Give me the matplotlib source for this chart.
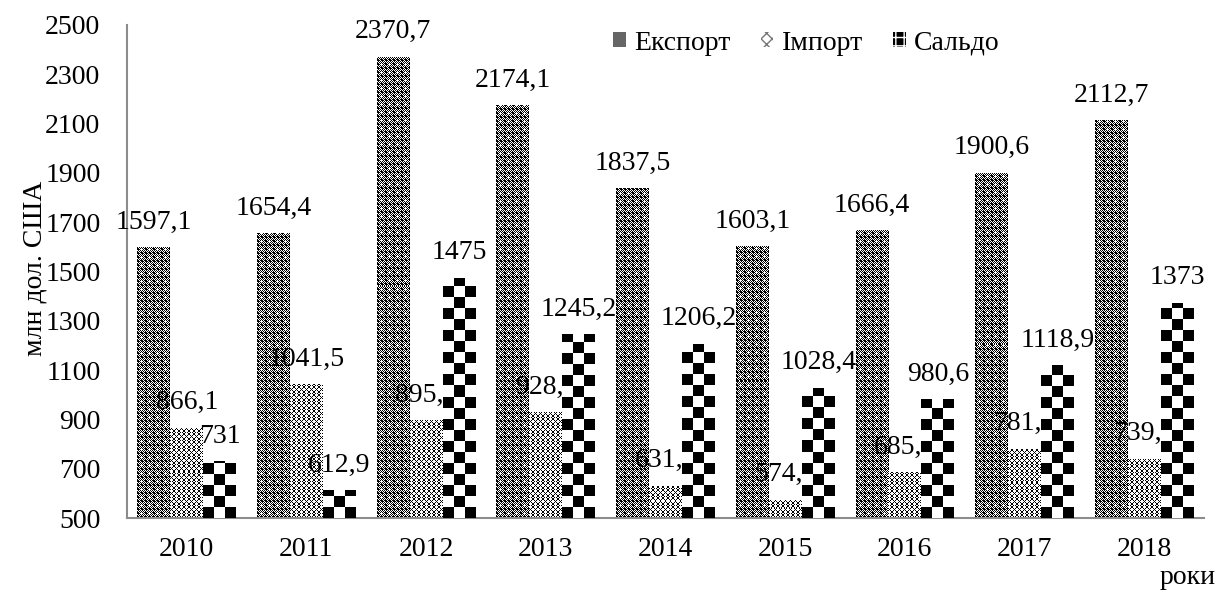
import numpy as np
import matplotlib
matplotlib.use("Agg")
import matplotlib.pyplot as plt
from matplotlib.patches import Patch

years = ['2010', '2011', '2012', '2013', '2014', '2015', '2016', '2017', '2018']
export = [1597.1, 1654.4, 2370.7, 2174.1, 1837.5, 1603.1, 1666.4, 1900.6, 2112.7]
imports = [866.1, 1041.5, 895.7, 928.9, 631.3, 574.7, 685.8, 781.7, 739.7]
saldo = [731, 612.9, 1475, 1245.2, 1206.2, 1028.4, 980.6, 1118.9, 1373]
series_names = ['Експорт', 'Імпорт', 'Сальдо']

plt.rcParams['font.family'] = ['Liberation Serif', 'DejaVu Serif']
plt.rcParams['font.size'] = 20

fig = plt.figure(figsize=(12.2, 5.9), dpi=100)
ax = fig.add_axes([0.104, 0.122, 0.883, 0.836])
ax.set_xlim(-0.5, len(years) - 0.5)
ax.set_ylim(500, 2500)
ax.set_yticks(np.arange(500, 2501, 200))
ax.set_xticks(np.arange(len(years)))
ax.set_xticklabels(years)
ax.tick_params(length=0, labelsize=20)
ax.tick_params(axis='x', pad=14)
ax.tick_params(axis='y', pad=19)
for s in ['top', 'right']:
    ax.spines[s].set_visible(False)
for s in ['left', 'bottom']:
    ax.spines[s].set_color('#8c8c8c')
    ax.spines[s].set_linewidth(1.5)

w = 0.275
x = np.arange(len(years))


# pixel patterns (1 = white, 0 = black)
def pat_export(h, wd):
    yy, xx = np.mgrid[0:h, 0:wd]
    dark = ((xx + yy) % 2 == 0) | ((xx % 4 < 2) & (yy % 4 < 2))
    cx = xx % 8
    cy = yy % 8
    cross = ((cx == 4) & (np.abs(cy - 4) <= 1)) | ((cy == 4) & (np.abs(cx - 4) <= 1))
    dark = dark & ~cross
    return (~dark).astype(float)


def pat_import(h, wd):
    yy, xx = np.mgrid[0:h, 0:wd]
    tri = np.abs((yy % 8) - 4)
    dark = ((xx + tri) % 5 == 0) | ((xx - tri) % 5 == 2)
    return (~dark).astype(float)


def px_size(bar):
    p0 = ax.transData.transform((bar.get_x(), bar.get_y()))
    p1 = ax.transData.transform((bar.get_x() + bar.get_width(), bar.get_y() + bar.get_height()))
    return max(int(round(p1[0] - p0[0])), 1), max(int(round(p1[1] - p0[1])), 1)


def fill_pixels(bars, func, z):
    for b in bars:
        wp, hp = px_size(b)
        img = func(hp, wp)
        im = ax.imshow(img, cmap='gray', vmin=0, vmax=1, origin='lower',
                       interpolation='nearest', aspect='auto', zorder=z,
                       extent=(b.get_x(), b.get_x() + b.get_width(),
                               b.get_y(), b.get_y() + b.get_height()))
        im.set_clip_path(b)


def fill_checker(bars, z):
    for b in bars:
        wp, hp = px_size(b)
        cell = wp / 3.0
        ny = int(np.ceil(hp / cell))
        yy, xx = np.mgrid[0:ny, 0:3]
        img = ((xx + yy) % 2 == 1).astype(float)
        top = b.get_y() + b.get_height() * (ny * cell / hp)
        im = ax.imshow(img, cmap='gray', vmin=0, vmax=1, origin='lower',
                       interpolation='nearest', aspect='auto', zorder=z,
                       extent=(b.get_x(), b.get_x() + b.get_width(), b.get_y(), top))
        im.set_clip_path(b)


def fmt(v):
    if float(v).is_integer():
        return str(int(v))
    return f'{v:.1f}'.replace('.', ',')


b_exp = ax.bar(x - w, np.array(export) - 500, w, bottom=500, color='none', zorder=2)
b_imp = ax.bar(x, np.array(imports) - 500, w, bottom=500, color='none', zorder=2)
b_sal = ax.bar(x + w, np.array(saldo) - 500, w, bottom=500, color='none', zorder=4)
ax.set_ylim(500, 2500)
ax.set_xlim(-0.5, len(years) - 0.5)

fill_pixels(b_exp, pat_export, 2)
fill_pixels(b_imp, pat_import, 2)
fill_checker(b_sal, 4)

for bars, vals, z in [(b_exp, export, 5), (b_imp, imports, 3), (b_sal, saldo, 5)]:
    for b, v in zip(bars, vals):
        ax.annotate(fmt(v), (b.get_x() + b.get_width() / 2, v),
                    xytext=(0, 18), textcoords='offset points',
                    ha='center', va='center', fontsize=20, zorder=z)

handles = [
    Patch(facecolor='#666666', edgecolor='none', hatch='xxxxxx', label=series_names[0]),
    Patch(facecolor='white', edgecolor='#777777', hatch='xxx', lw=0, label=series_names[1]),
    Patch(facecolor='black', edgecolor='white', hatch='++', lw=0, label=series_names[2]),
]
ax.legend(handles=handles, loc='center left', bbox_to_anchor=(0.441, 0.963),
          frameon=False, ncol=3, handlelength=0.45, handleheight=0.45,
          handletextpad=0.3, columnspacing=1.1, borderaxespad=0, fontsize=20)

fig.text(35 / 1220, 1 - 268 / 590, 'млн дол. США', rotation=90,
         ha='center', va='center', fontsize=20)
fig.text(1216 / 1220, 1 - 578 / 590, 'роки', ha='right', va='center', fontsize=20)

fig.savefig('out.png', dpi=100)
